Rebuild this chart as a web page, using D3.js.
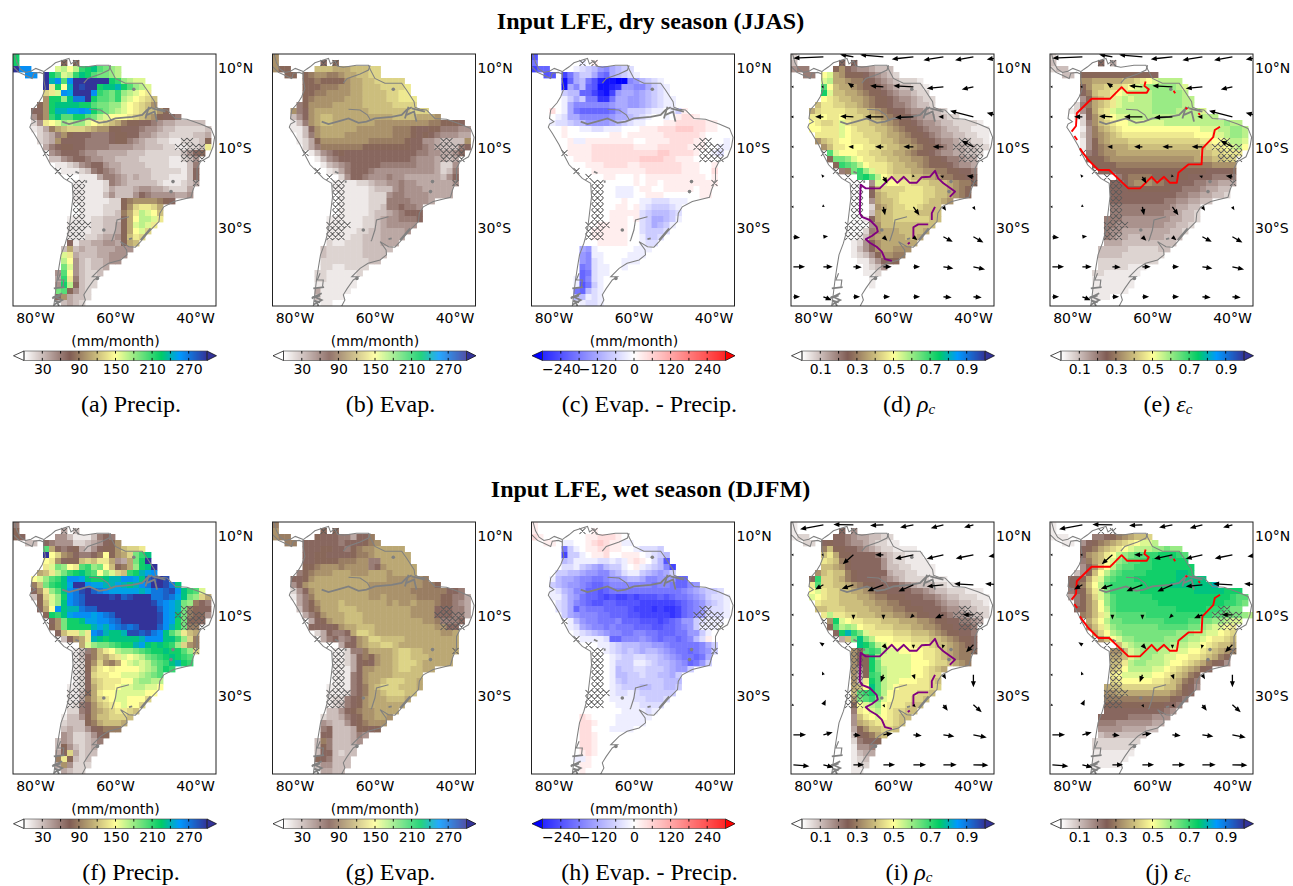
<!DOCTYPE html>
<html><head><meta charset="utf-8">
<script src="https://cdn.jsdelivr.net/npm/d3@7"></script>
<style>html,body{margin:0;padding:0;background:#fff}svg{display:block}</style>
</head><body><svg id="c" width="1293" height="886"></svg>
<script>
// Grid: 1.5 degree cells, each row string starts at rowStart[row]; one base-36 character per cell (0..u = 0..30 of the colour range), '.' = no data
const rowStart=[0,0,0,0,5,5,5,5,4,3,3,3,3,4,4,5,6,6,7,8,11,10,10,10,10,10,10,9,9,9,9,9,8,8,8,8,7,7,7,7,7,8];
const precipDry="m m.......8.8 uqq....ghfhlmnkjih ..qq.umkghlnmkjjih uoqkquuuuuumlihgg uemfoutuumnnomkihg degqpuuuqlkjlihgfe amminrrumkkjlhgfedc 8amnnnnmmkjjiigfedca 77amooppqpmkjihgfedcca8 58alnkkmmkjhgfffedcba8776 25efgihiigfedcb98877654433333 1249bcdddcbaa88777655433222223 2346a877766678877554332222334 234a7777666678865433221122238 467887766665555443332211223e 56777655444443332222223578 3356776554433332222211235 112356775443333222211136 11123676543333322222137 11146654343322211137 111112654333332111234 11111243334554432224 11111353335765555445 1111112289aaaa987 011112228adeedb 011112239behgfc 1111223338bfhhge 1111223348bghge 1111223348bfgd 1112234458ced 7133445548bc 3b3433444555 ge433344555 hf53233455 jg532334 5kf53223 4le6322 5mh7322 jk8532 7a4332 3432".split(" ");
const evapDry="a a.......7.8 a88....cccbbbcccdd ..88.89aa99abbccdd 8898888abbccddddd 888999aabbcccdddde 8899aaaabbccccddee 89aaaaabbbccccddeee 68aaaabbbbbcccccdddd a67abbbbbbbbbcccccccddd 357abccbbbbbbbbbbccccbbba 136abccbbbbbbbaaaaaaaaa998887 1137abbbbbbaaaaaa9998778866655 136abbbbaaaaaaaa9998787655544 1248aaaaaaaa9999998775543333a 2469999999888888887765433367 13567877777777777766554457 0135677777777777765554434 013456777776666665554225 01246777655555555554236 25776555655444444357 111122344556554444445 11111123335655544444 01111122256655554444 01111122266665554 011111223667665 011111233456777 1111112234556667 111111223455555 11111223344445 1111223334444 211222333444 322222233333 32222223333 2222222233 22112222 22111112 2211111 1111111 411111 311110 1100".split(" ");
const epDry="5 7.......e.g 466....edcb98abcd ..55.47acca76abcde 16ab752110089bcde 1a8b6511239988acde cbb6642149aa9abcde ecac77337aa99abcdee fea8888889aa99abcdee hfea76666679acccdeefecg fedaa888889aabcdeffefghhg eddcbb9999abcdeefffgghhhhhggf ffgffeeddeeefffggghhhiiihhggff fgfffffffggfgggggghhhhhhgffff ffgeeggggggggffgggghhhhggfffe fgggghhhhhhhgggghhhhhgggffee gggghhhhhhhhhhhiihhhhgffed fggghhhhhhhhiiiihhgggffff ffggghhhhgghhhhhhhgggffg ffggggggggghhhhhhgggffh fggfffgfggggggggggfg fffffffgfggfggggggggg ffffeeefggffgggggfgg ffffeeeffgggffffffgg fffffgffeedddeeef ffffggfgedcccde fffgggggdcbbbcd ffffgggfgdcaabce ffgggggffdcabce fggggggffdcccd fggggggffeccd ffgggggffedd a9effffffeee 98eeffffeee 98defffeee 78deeffe f67deeff e68deff e57ceff 76bdef bbedef edde".split(" ");
const rhoDry="2 3.......7.7 566....8a76554333 ..66.fgba888765432 ghbba998765432221 kfcbba988765433221 mgccbba98876544322 fedccbba98876554322 ceeddccba98876654332 bdeeeeddccba98776554332 eefeefdddccba988765443322 feddegedddccba988765543322221 ffeeegfedddccba988765543322111 eeeegfeedddcbba98876544332211 acdeffeeeddccbaa9887655433221 aceefffeeddccbba988765443322 kgfffeeddccbba988765544332 8jjigfeeddccbbaa988766544 8lkjhfeeedccbba988876554 69jligeedcccbbaa9988776 lmkhfedddccbba998877 0005ggffeedddcccba998 0007cddddeeeddccba98 0007bcddeeeeddccba98 0005bccdeeeedccba 0002abcddeedccc 0003bccddddcccc 00017bccddddddcc 00005accccccccc 00026abbbccccb 0013abbbbbccb 01258abbbbbb 001357abbaaa 0012358aa99 0001135788 00001235 00000112 0000001 0000001 000000 000000 0000".split(" ");
const epsDry="2 3.......7.4 233 ..33.8888888888887 aabbbbbccdefghhhh 8accdddefghiiiiihg 79cddefghhhhiiiiih 58bcdeghghhhiiiiihh 269bcdeghhhhhiiiiihh 1258bdeghhhhhhiiiihhhhg 0127acefgghhhhhhhhhhhhhhh 0026acdeffgggggghhhhhhhhhhihh 00159bcdefffffffffffffggghhiih 0259abcdeeeeeeeeeeeefffgghiih 0158abcccddddddddddddeeffghhg 1589abbbcccccccccccccdeefghf 679aabbbbbbbbbbbbbbccddeee 8889aaaaaaaaaaaaaabbbccdd 88889999999999999999aaaa 78888888888888888877778 68999988888877776666 7779aaa99887776655444 77788888887766654433 77777777777665544332 77777777766554433 666666666654433 666666666554332 6665555555544332 665555555544332 65544444444332 6544334444333 444333333333 333332222233 33332222222 2222222222 22222111 22111111 1111111 1111111 111111 111000 0000".split(" ");
const precipWet="6 8.......4.3 87.....5531113676 ..33.765552234578a kb7678435788acdde ufda976679f8abdjln fea788cdceeb54bjmu egjifeklijfc89bimnu bcehjlmnlkfigdclmopq fgiklnqqpnmmnooqqpnstut 9cjlmnpuuqppooponoqruutrn 7aeiknqrtusrqpppppoprrstqnlkg 38dgimqrsuuuutustuuurrsrpnjidb 8cginqrsuuuuuuuuuuutrqpoji976 7bfqnoorssuuuuuuuuuusqpoj9877 8mlnpqqqpqrsuuuuuuutqpnj9885 7ajmmnppqqrsuuuuuutqpmj887 8ajmmmmopoqrsrsuuusqomj99 7ceeheqronnottstrqnkiecb 37abeonmnnnnnoqqqnnlid9 bgijjklmmopnmnmlida9 1369cefhiijklmmnmmkid 1379cbdegfghjklmnmlk 128ada9bfghghjklnoml 128cefeffffghikml 127deeffggghijk 127cdeeeffhiihh 1127bdeefgghhggf 1138beffgggggff 1149bdefggfffd 1267acdefgffd 2267abcdeedc 13358accdddc 233389bcccb 3433578999 54223578 35422346 3853234 47d4233 9e8323 4a5222 4322".split(" ");
const evapWet="9 a.......8.8 a99....8777664779 ..99.777777677789a 7778877689aabbbbb 77887777899abbbbbb 778888999aa66bbbbb 889aaa9aaaa67abbbbb 689aaabbbaaabbbabbbb 778abbbbbbbbbbbbaaaaaa9 57abbbbbbbbbbaaaaaaaaa998 257abbbbbbbbbaaaaaaa999999776 1469bbbbbbbbbaabaaaaa999988664 468abbbcbbbbbbbabaabaaa988654 3689bbbcccbbbbbbbbbaaaa777664 468abbbcccbbbbbbbbaaaa777664 478abbcccbbbbbbbbbbaa96667 77778abbcccbbbbbbbbbbaa77 247667bddcbbbbbbbbbbbaab 467567abddccccbbbbbbbbb 477abccddcbbbbbbbbbb 112669bbbbcddccbbbbbb 1124798abbcddcccbbbb 1124787abbcdddcbbbbb 11147aabbbcddccbb 11167abbbbccccc 11167abbcdddccb 1111679bcdddcccb 1112679bbcdddcc 122678abbbcccb 123678abbbbbb 335789aabbbb 2334678aabba 54335789aaa 6733348878 77333465 39633345 3863333 3773233 876333 355333 4433".split(" ");
const epWet="g g.......f.g hgf....ffgghhhgff ..gg.eeffghihggeef 7cefgghhggffedddc 4ccefgghffgggfedcb bceeeeddedeghgfdb5 ddecba9bccefgedcb84 ccbba9988abdeecba9ac ebaa98877899abba8899966 cba9987667888888878876689 edba88665677777777777789abccd eeca976654544545556567789acdde dca8765566555544444456789bcde dca6877766665444343346789cdde ca988877666554444434 6789ddde eb98877786665554567 99cdeee eda98878777666556678 9ceee edcba988778877666779 9cef eeeed668889876776 78bdg eedcbbbaa998777778ac ffedcbcbabba98776789c fffedccddccba987767a fffeccceedcbba98679c fffebccddcccba99c fffebbccdccbbac fffecbccccccbbb ffffedcccbbccbbc ffffeddedcccccc ffffeeeeddcccd fffffeeeedddd ffffffeeeede hgffffeeeeee hhgfffeeeee hhfffeeeef hhgfffff fhhgffff fhhgfff fghgfff eegfff fggfff gfff".replace("ca988877666554444434 6789ddde","ca988877666554444434"+"6789ddde").replace("eb98877786665554567 99cdeee","eb98877786665554567"+"99cdeee").replace("eda98878777666556678 9ceee","eda98878777666556678"+"9ceee").replace("edcba988778877666779 9cef","edcba988778877666779"+"9cef").replace("eeeed668889876776 78bdg","eeeed668889876776"+"78bdg").split(" ");
const rhoWet="1 1.......7.5 122....7765443322 ..22.7877655432211 9c887765432211110 ceb887777643221110 edc987777753221111 ccba877777533221111 acdcc987777743322111 8lddcb98777765432222111 ekddccba98877776543332211 fgeddccbba9887777665433222111 gfeddcccbba9988877766543322211 edddccccbbaa99887777654433221 ccdddccccbbaa9988877765543322 eheeddcccbbbaa99887776554332 amgfeedddcccbbbaa988776654 8khihfeedddcccbbaa9887776 7moljgeeeedddcccba988776 4cjnjhfffeeedddccba9887 nmkhgffffeeedccba987 a8klkhggffffeedcba998 a88migggggffeedcba99 a78mjgggggfffeddcba9 a58mjhggggffedcb a48lkhggggffedd a3emkhggfffeedc 0bcfnkhgfeeeeedd 0cklmkhfeeeeddc 0ajkljgfeeeddc 08fghifeeedcc 06efghfeddcc 005cefgfedcc 005bcdeeedc 0048accddc 003789bc 00026778 0001556 0001344 000123 000122 0011".split(" ");
const epsWet="1 1 111....66789abccd ..11.5789abcdefggh 789bcdefghhhiijii 7abcefhijkkllmmmlk 69bcfgijkkllmmmmmm 57adfhjkklllmmmmmmm 358cfhjkllllmmmmmnnm 778begjklllmmmmmmmnnnnn 789cfhklllllmmmmmnnnnnnno 678begjlllllmmmmmmmmmnnnnnmmm 468adgikllllllmmmmmmmmmmmmmlkk 68acfiklllllllmmmmmmmmmmmllkj 78acfhkllllllllllmmmmmlllkjj 9acegjkkkkklllllllllllkkjjjih bdfhjjkkkkkkkllllkkjjiihgg acegijjjjjjjkkkkkjjihggfe bdfhijjjjjjjjjiiihhggfed acfgiijjjjjiiiihhgfeedc cghiiiiiihhhggfedccb aacghiiihhgggffedcba9 bbcghiihhggffeedcb98 ccehiihhhgffedcb9875 cdfhhhhggfedcba87 efgggggffedcb98 defffffeedcb986 bccdddddddcca875 aabbbbbbbbba987 99999999999876 8888888888776 777777777765 777776666555 66655555544 5555444433 34433333 22222222 2222222 1111111 111111 111110 0000".split(" ");

// Hatched cells: row, first column, last column
const hatchSpans=[[1,8,8],[1,10,10],[14,28,29],[15,27,31],[16,5,5],[16,28,31],[17,28,31],[19,7,7],[20,9,9],[21,10,11],[21,30,30],[22,10,11],[23,10,11],[24,10,11],[25,10,11],[26,10,11],[27,10,11],[28,9,12],[29,9,11],[30,9,11]];

// Coastline, rivers and lakes, in [lon, lat]
const coastMain=[[-77.8,8.8],[-77,9.4],[-76.1,10],[-74.9,11],[-72.8,11.7],[-71.5,12.1],[-71,10.7],[-69.9,11.5],[-69.3,10.2],[-67.8,9.9],[-64.5,10.4],[-61.5,10.4],[-61,9.2],[-59.9,7.1],[-57.4,5.9],[-53.2,5.9],[-52,4.2],[-50.1,1.3],[-49.9,-0.1],[-48.6,-0.6],[-47,-0.8],[-44.9,-2.9],[-42,-3.1],[-38.6,-4.3],[-36,-5.4],[-35.1,-7.6],[-35.5,-10],[-36.5,-12.5],[-38.6,-13.7],[-39.5,-15.4],[-39.5,-18.3],[-40.5,-20.8],[-41,-22.6],[-45.3,-23.7],[-47.8,-25],[-48.8,-26.6],[-49,-28.7],[-51.5,-31.2],[-53.6,-33.7],[-54.9,-35.1],[-56.5,-35],[-58.6,-33.7],[-57.1,-35.8],[-57,-37],[-58.6,-38.3],[-61.6,-39.1],[-63.6,-40.4],[-65.7,-42.5],[-64,-42.5],[-65.3,-43.3],[-66.8,-45.4],[-67.8,-47],[-67.4,-48.3],[-68.2,-49.8]];
const coastWest=[[-75.3,-49.8],[-74.9,-46.6],[-74.5,-43.3],[-74,-40],[-73.5,-37],[-72.4,-34.1],[-71.5,-30.8],[-71,-26.6],[-70.5,-22.5],[-70.7,-19.1],[-72.8,-17.9],[-74.4,-16.2],[-76.1,-14.5],[-77.4,-12],[-78.6,-9.5],[-80.3,-6.6],[-81.3,-5.1],[-81,-4.3],[-79.9,-3.7],[-81,-2.9],[-80.7,-0.8],[-79.1,1],[-78.2,2.5],[-77.4,4.6],[-77.8,6.7],[-77.8,8.8]];
const coastCentralA=[[-85.1,13.2],[-84.5,11],[-83.6,9.4],[-82.4,8.6],[-81,8.9],[-79.8,9.6],[-77.8,8.8]];
const coastCentralB=[[-85.4,10],[-84,8.6],[-82.4,7.9],[-80.7,7.1],[-80.3,8.4],[-78.8,8.6],[-77.8,8.2]];
const riverThin=[[[-73.6,-41.6],[-74.3,-43.3],[-72.8,-43.3],[-73,-45]],[[-60.9,-33.6],[-60.7,-33.3],[-59.9,-30.8],[-59.5,-28.3],[-56.5,-27.5]],[[-67.8,5.9],[-66.8,7.1],[-63.6,8.2],[-61.5,9.2],[-61.1,10.4]],[[-66.5,-0.6],[-63.6,-0.8],[-61.8,-2],[-60.9,-3.5]]];
const riverThick=[[[-73.2,-3.7],[-71.5,-4.3],[-68.6,-3.5],[-66.5,-2.9],[-64,-4],[-62,-3.7],[-59.9,-2.9],[-55.7,-2.5],[-53.2,-2],[-52,-0.8],[-50.7,-0.1]],[[-52,-2],[-50.1,-1.2],[-49.5,-3.7]],[[-50.7,-0.4],[-47.4,-1.2]],[[-52.4,-2.9],[-51.5,0]],[[-53.6,-33.3],[-51.1,-30.4]],[[-69.9,-16.2],[-69,-16.6]],[[-67.2,-18.4],[-67.2,-19]],[[-56.5,-33.1],[-55.7,-32.9]],[[-75.3,-45.4],[-72.6,-45.1]],[[-75.7,-47.9],[-73.2,-46.6]],[[-75.3,-49.5],[-73.2,-48.3],[-75,-47.5],[-73.6,-47.2]],[[-74,-49.8],[-74.6,-48.6],[-73.6,-48.9],[-75.1,-48.6]]];
const lakes=[[-45.5,-18.7],[-46,-21.2],[-55.3,4.4],[-62.8,-30.8],[-64.4,-42.9]];

// Contours, in [lon, lat]
const contourPurple=[[[-60.3,-38.5],[-62,-38.1],[-62.8,-36.2],[-64.1,-35],[-65.8,-34],[-66.8,-33.1],[-65.3,-32.3],[-63.8,-31.2],[-64.1,-30],[-65.8,-28.3],[-67.8,-27.5],[-68.3,-26.6],[-68.1,-19.5],[-66.8,-20.4],[-63.3,-20.4],[-61.6,-18.7],[-60.3,-17.5],[-58.9,-19],[-57.3,-17.5],[-55.8,-19],[-54.1,-19],[-52.8,-17.6],[-50.8,-17.5],[-49.5,-16],[-48.7,-17.9],[-47.4,-19.1],[-44.5,-21.2],[-45.8,-22.5]],[[-50.3,-28.3],[-50.3,-26.6],[-49.5,-25]],[[-54.9,-32.9],[-54.9,-30.1],[-53.7,-29.4],[-51.2,-29.4]],[[-56.3,-34.3],[-55.8,-33.9]]];
const contourRed=[[[-80.1,-6.2],[-79,-4.8],[-78.8,-1.6],[-75.1,2],[-70.5,2],[-67.6,4.9],[-66.2,3.5],[-61.3,3.5],[-60.8,4.4],[-61.9,5.2],[-61.6,6.3]],[[-79.4,-7.3],[-78.7,-8.3]],[[-78,-10.4],[-77.2,-11.6],[-75.9,-13.3],[-73.4,-15.8],[-70.7,-15.8],[-65.9,-20.4],[-63,-20.4],[-60.1,-17.5],[-58.7,-19],[-57,-17.5],[-55.5,-19],[-53.8,-19],[-53.4,-16.5],[-50.9,-14.4],[-47.6,-14.4],[-47.4,-10.4],[-44.7,-7.6],[-44.3,-5.8],[-43,-5]],[[-54.6,4],[-54.2,3.4]],[[-51.6,-0.2],[-51.2,-0.6]],[[-48.4,-1.6],[-48,-2]]];

// Wind vectors on a 7.5 degree grid
const windLons=[-84.9,-77.4,-69.9,-62.4,-54.9,-47.4,-39.9,-32.4];
const windLats=[12.5,5,-2.5,-10,-17.5,-25,-32.5,-40,-47.5];
const windDryU=[[0,-90,-40,-70,-65,-60,-55,-50],[-3,-3,-17,-40,-60,-50,-35,-10],[-8,-25,-40,-55,-55,-15,-70,-50],[-6,0,-15,-25,-30,-32,-35,-30],[-6,-6,0,12,-2,-10,-20,0],[-3,-1,0,5,18,8,6,0],[20,14,0,12,12,28,30,0],[35,28,25,25,20,30,35,0],[20,25,20,20,20,25,25,0]];
const windDryV=[[0,-4,7,6,-7,-10,-10,-8],[0,0,12,3,3,-5,-8,0],[0,0,2,0,-2,0,18,12],[0,0,0,0,0,0,18,6],[0,8,0,-20,8,3,3,0],[0,8,0,-25,-25,-12,-10,0],[-3,2,0,-12,-10,-15,-17,0],[0,0,-1,0,0,-5,-8,0],[0,-10,0,0,0,-2,-2,0]];
const windWetU=[[0,-70,-60,-40,-40,-38,-28,-20],[-3,-3,-32,-25,-55,-50,-53,-45],[-5,-25,-35,-48,-45,-50,-58,-55],[-6,0,0,0,-10,-25,-32,-8],[-5,-12,0,12,0,-3,-22,0],[-2,-4,0,-8,5,8,0,0],[-6,7,0,5,7,13,25,0],[38,28,22,28,25,33,40,0],[48,30,32,35,38,40,45,0]];
const windWetV=[[0,-13,1,-2,-8,-10,-8,-4],[0,0,-28,0,-12,-12,-11,-5],[0,-14,-12,-19,-20,-5,3,3],[0,0,-14,-14,-10,-10,0,0],[0,8,0,-13,-12,-12,-22,0],[0,10,0,-22,-14,-13,-37,0],[-2,15,0,-8,-7,-18,-22,0],[0,8,-2,5,-3,-5,-8,0],[-4,-8,0,0,0,0,-1,0]];
const windPxPerUnit=1/3;

const lonTicks=[-80,-60,-40], latTicks=[10,-10,-30];
const cbSeqTicks=[30,90,150,210,270], cbFracTicks=[.1,.3,.5,.7,.9], cbDivTicks=[-240,-120,0,120,240];
const titles=["Input LFE, dry season (JJAS)","Input LFE, wet season (DJFM)"];
const panels=[
 [{d:precipDry,k:"mm",cap:"(a) Precip."},{d:evapDry,k:"mm",cap:"(b) Evap."},{d:epDry,k:"ep",cap:"(c) Evap. - Precip."},{d:rhoDry,k:"fr",math:"ρ",pre:"(d) ",lines:contourPurple,col:"#800080",wu:windDryU,wv:windDryV},{d:epsDry,k:"fr",math:"ε",pre:"(e) ",lines:contourRed,col:"#f00",wu:windDryU,wv:windDryV}],
 [{d:precipWet,k:"mm",cap:"(f) Precip."},{d:evapWet,k:"mm",cap:"(g) Evap."},{d:epWet,k:"ep",cap:"(h) Evap. - Precip."},{d:rhoWet,k:"fr",math:"ρ",pre:"(i) ",lines:contourPurple,col:"#800080",wu:windWetU,wv:windWetV},{d:epsWet,k:"fr",math:"ε",pre:"(j) ",lines:contourRed,col:"#f00",wu:windWetU,wv:windWetV}]
];

const terrain=d3.scaleLinear().domain([0,.25,.5,.75,.85,1]).range(["#ffffff","#805c54","#ffff99","#00cc66","#0099ff","#333399"]).clamp(true);
const bwr=d3.scaleLinear().domain([0,.5,1]).range(["#0000ff","#ffffff","#ff0000"]).clamp(true);
const kinds={mm:{dom:[0,300],c:terrain,step:30,ticks:cbSeqTicks,unit:true,fmt:d3.format("d")},
 ep:{dom:[-300,300],c:bwr,step:60,ticks:cbDivTicks,unit:true,fmt:d=>String(d).replace("-","\u2212")},
 fr:{dom:[0,1],c:terrain,step:.1,ticks:cbFracTicks,unit:false,fmt:d3.format(".1f")}};

const LON0=-85.5,LAT0=13.2,CELL=1.5,PXD=4,PW=203,PH=252;
const lefts=[13,272.5,531.5,791,1050], tops=[54,522];
const svg=d3.select("#c");
const sans="'DejaVu Sans',sans-serif", serif="'Liberation Serif',serif";
const defs=svg.append("defs");
const lineGen=(x,y)=>d3.line().x(p=>x(p[0])).y(p=>y(p[1]));

function arrow(x0,y0,dx,dy){
  const L=Math.hypot(dx,dy); if(L<0.4) return null;
  const ux=dx/L,uy=dy/L,nx=-uy,ny=ux;
  const pt=(a,b)=>[x0+ux*a+nx*b,y0+uy*a+ny*b];
  const w=.65,hw=2.5,hl=6;
  if(L<=hl){const s=Math.max(L/hl,.55);return d3.line()([pt(0,hw*s),pt(0,-hw*s),pt(Math.max(L,2),0)])+"Z";}
  return d3.line()([pt(0,w),pt(L-hl,w),pt(L-hl,hw),pt(L,0),pt(L-hl,-hw),pt(L-hl,-w),pt(0,-w)])+"Z";
}

tops.forEach((top,ri)=>{
 svg.append("text").attr("x",650.5).attr("y",top-25).attr("text-anchor","middle").attr("font-family",serif).attr("font-weight","bold").attr("font-size",24).text(titles[ri]);
 panels[ri].forEach((p,ci)=>{
  const left=lefts[ci];
  const x=d3.scaleLinear().domain([LON0,LON0+PW/PXD]).range([left,left+PW]);
  const y=d3.scaleLinear().domain([LAT0,LAT0-PH/PXD]).range([top,top+PH]);
  const K=kinds[p.k], span=K.dom[1]-K.dom[0];
  const val=ch=>K.dom[0]+parseInt(ch,36)/30*span;
  const col=v=>K.c((v-K.dom[0])/span);
  const id="clip"+ri+ci;
  defs.append("clipPath").attr("id",id).append("rect").attr("x",left).attr("y",top).attr("width",PW).attr("height",PH);
  const g=svg.append("g").attr("clip-path",`url(#${id})`);
  const cells=[];
  p.d.forEach((s,r)=>[...s].forEach((ch,i)=>{if(ch!=="."&&ch!==" ")cells.push({c:rowStart[r]+i,r,v:val(ch)});}));
  g.append("g").style("filter","blur(0.45px)").selectAll("rect.cell").data(cells).enter().append("rect").attr("class","cell")
   .attr("x",d=>x(LON0+CELL*d.c)).attr("y",d=>y(LAT0-CELL*d.r))
   .attr("width",x(LON0+CELL)-x(LON0)+.4).attr("height",y(LAT0-CELL)-y(LAT0)+.4)
   .attr("fill",d=>col(d.v));
  // hatching
  const hc=[];hatchSpans.forEach(([r,a,b])=>{for(let c=a;c<=b;c++)hc.push([c,r]);});
  g.append("path").attr("fill","none").attr("stroke","#5a5a5a").attr("stroke-width",1.05)
   .attr("d",hc.map(([c,r])=>{const x0=x(LON0+CELL*c),x1=x(LON0+CELL*(c+1)),y0=y(LAT0-CELL*r),y1=y(LAT0-CELL*(r+1));return `M${x0} ${y0}L${x1} ${y1}M${x1} ${y0}L${x0} ${y1}`;}).join(""));
  // coast and rivers
  const lg=lineGen(x,y);
  [coastMain,coastWest,coastCentralA,coastCentralB].forEach(l=>g.append("path").attr("d",lg(l)).attr("fill","none").attr("stroke","#808080").attr("stroke-width",1.05));
  riverThin.forEach(l=>g.append("path").attr("d",lg(l)).attr("fill","none").attr("stroke","#808080").attr("stroke-width",1.15));
  riverThick.forEach(l=>g.append("path").attr("d",lg(l)).attr("fill","none").attr("stroke","#808080").attr("stroke-width",1.8));
  g.selectAll("circle.lake").data(lakes).enter().append("circle").attr("cx",d=>x(d[0])).attr("cy",d=>y(d[1])).attr("r",1.8).attr("fill","#808080");
  // contour
  if(p.lines) p.lines.forEach(l=>g.append("path").attr("d",lg(l)).attr("fill","none").attr("stroke",p.col).attr("stroke-width",1.9).attr("stroke-linejoin","round"));
  // wind
  if(p.wu){
   const ar=[];windLats.forEach((la,m)=>windLons.forEach((lo,k)=>{const a=arrow(x(lo),y(la),p.wu[m][k]*windPxPerUnit,-p.wv[m][k]*windPxPerUnit);if(a)ar.push(a);}));
   g.selectAll("path.w").data(ar).enter().append("path").attr("class","w").attr("d",d=>d).attr("fill","#000");
  }
  svg.append("rect").attr("x",left).attr("y",top).attr("width",PW).attr("height",PH).attr("fill","none").attr("stroke","#222").attr("stroke-width",1);
  // axes
  const ax=svg.append("g").attr("transform",`translate(0,${top+PH})`).call(d3.axisBottom(x).tickValues(lonTicks).tickSize(0).tickPadding(7).tickFormat(d=>Math.abs(d)+"°W"));
  ax.select(".domain").remove();ax.selectAll("text").attr("font-family",sans).attr("font-size",14).attr("fill","#000");
  const ay=svg.append("g").attr("transform",`translate(${left+PW},1)`).call(d3.axisRight(y).tickValues(latTicks).tickSize(0).tickPadding(2).tickFormat(d=>Math.abs(d)+"°"+(d>0?"N":"S")));
  ay.select(".domain").remove();ay.selectAll("text").attr("font-family",sans).attr("font-size",14).attr("fill","#000");
  // colorbar
  const bx0=left+11,bw=183,by=top+297,bh=9.5;
  const cb=d3.scaleLinear().domain(K.dom).range([bx0,bx0+bw]);
  const cg=svg.append("g");
  cg.selectAll("rect").data(d3.range(0,bw)).enter().append("rect").attr("x",d=>bx0+d).attr("y",by).attr("width",1.2).attr("height",bh).attr("fill",d=>K.c((d+.5)/bw));
  cg.append("path").attr("d",`M${bx0} ${by}L${bx0-10.5} ${by+bh/2}L${bx0} ${by+bh}Z`).attr("fill",K.c(0)).attr("stroke","#000").attr("stroke-width",.7);
  cg.append("path").attr("d",`M${bx0+bw} ${by}L${bx0+bw+9.5} ${by+bh/2}L${bx0+bw} ${by+bh}Z`).attr("fill",K.c(1)).attr("stroke","#000").attr("stroke-width",.7);
  cg.append("rect").attr("x",bx0).attr("y",by).attr("width",bw).attr("height",bh).attr("fill","none").attr("stroke","#444").attr("stroke-width",.6);
  const stepVals=d3.range(1,10).map(i=>K.dom[0]+i*K.step);
  stepVals.forEach(v=>{cg.append("path").attr("d",`M${cb(v)} ${by}v2.6M${cb(v)} ${by+bh}v-2.6`).attr("stroke","#000").attr("stroke-width",.9);});
  const axb=svg.append("g").attr("transform",`translate(0,${by+bh})`).call(d3.axisBottom(cb).tickValues(K.ticks).tickSize(0).tickPadding(3.5).tickFormat(K.fmt));
  axb.select(".domain").remove();axb.selectAll("text").attr("font-family",sans).attr("font-size",14).attr("fill","#000");
  if(K.unit) svg.append("text").attr("x",bx0+bw/2).attr("y",by-5.5).attr("text-anchor","middle").attr("font-family",sans).attr("font-size",14).text("(mm/month)");
  // caption
  const cx=left+118,cy=top+358;
  const t=svg.append("text").attr("x",cx).attr("y",cy).attr("text-anchor","middle").attr("font-family",serif).attr("font-size",24);
  if(p.cap) t.text(p.cap); else {
    t.append("tspan").text(p.pre);
    t.append("tspan").attr("font-style","italic").text(p.math);
    t.append("tspan").attr("font-style","italic").attr("font-size",15).attr("dy",2).text("c");
  }
 });
});
</script></body></html>
